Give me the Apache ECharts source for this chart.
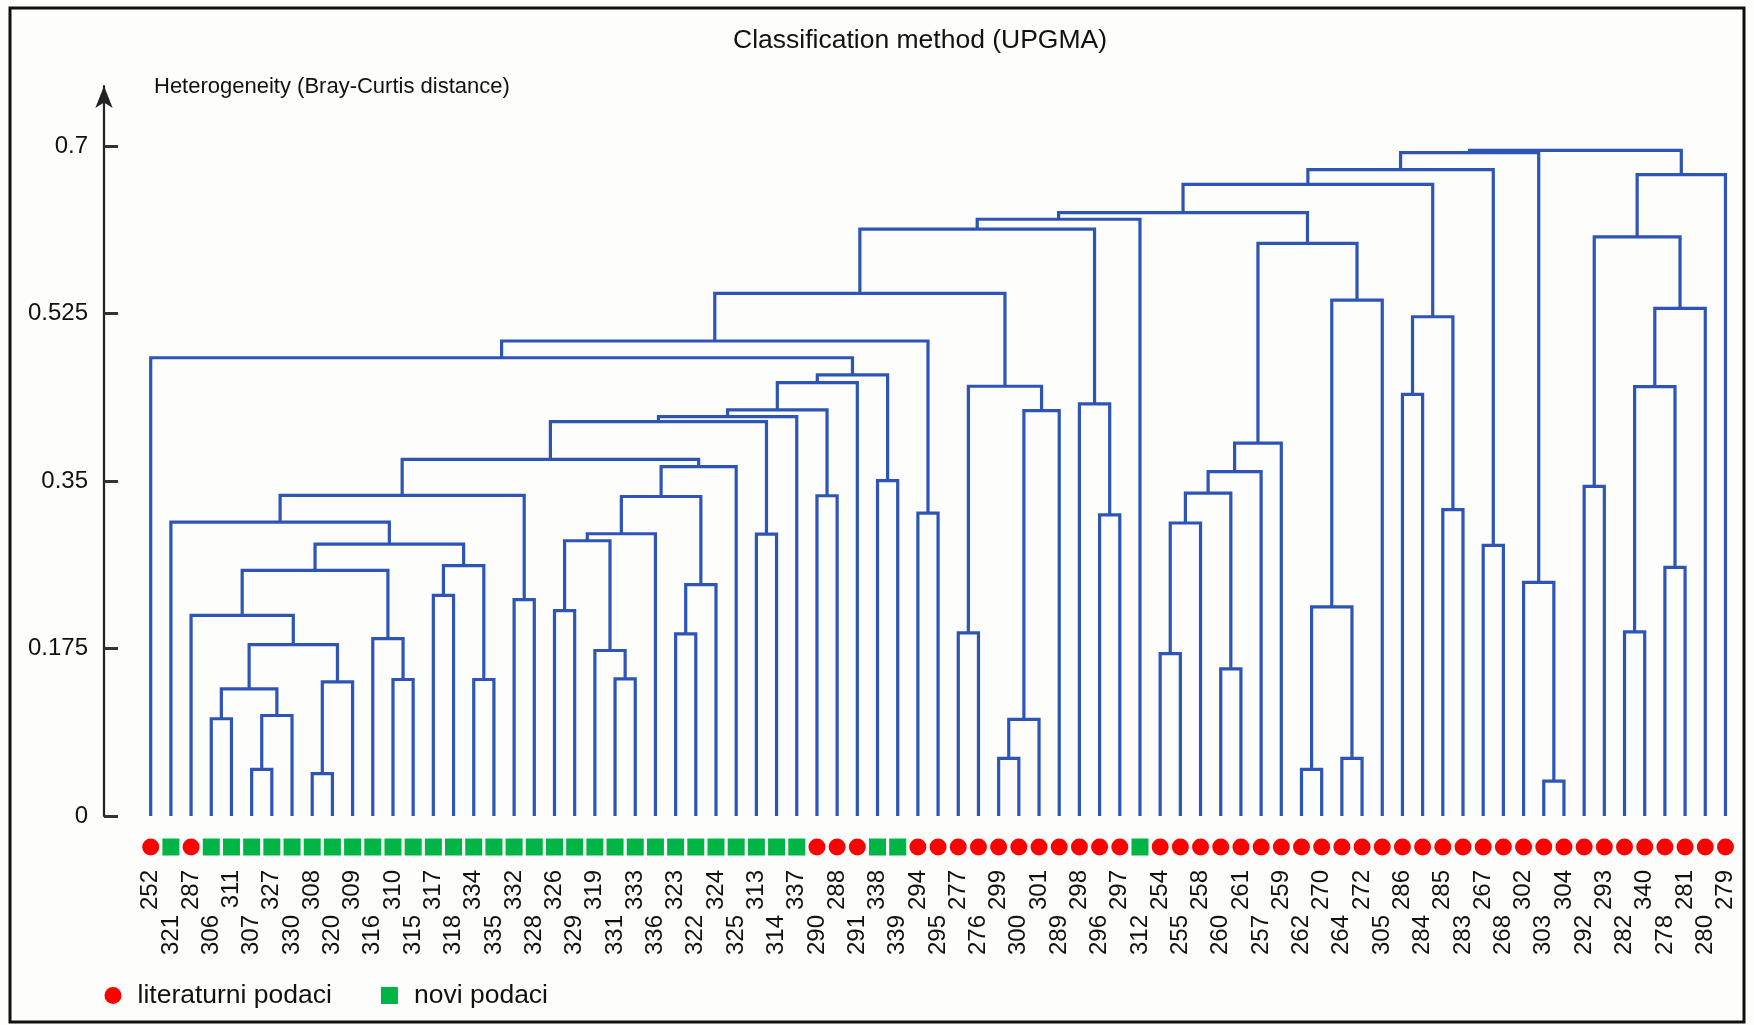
<!DOCTYPE html>
<html>
<head>
<meta charset="utf-8">
<script src="https://cdn.jsdelivr.net/npm/echarts@6/dist/echarts.min.js"></script>
<style>
html,body{margin:0;padding:0;background:#fdfdfb;}
#chart{width:1754px;height:1025px;}
</style>
</head>
<body>
<div id="chart"></div>
<script>
// ---------- DATA ----------
// leaf labels, in dendrogram order (left to right)
const leafLabels = [
  '252','321','287','306','311','307','327','330','308','320',
  '309','316','310','315','317','318','334','335','332','328',
  '326','329','319','331','333','336','323','322','324','325',
  '313','314','337','290','288','291','338','339','294','295',
  '277','276','299','300','301','289','298','296','297','312',
  '254','255','258','260','261','257','259','262','270','264',
  '272','305','286','284','285','283','267','268','302','303',
  '304','292','293','282','340','278','281','280','279'
];
// L = literaturni podaci, N = novi podaci
const leafGroup = [
  'L','N','L','N','N','N','N','N','N','N',
  'N','N','N','N','N','N','N','N','N','N',
  'N','N','N','N','N','N','N','N','N','N',
  'N','N','N','L','L','L','N','N','L','L',
  'L','L','L','L','L','L','L','L','L','N',
  'L','L','L','L','L','L','L','L','L','L',
  'L','L','L','L','L','L','L','L','L','L',
  'L','L','L','L','L','L','L','L','L'
];
const groupNames = { L: 'literaturni podaci', N: 'novi podaci' };
// linkage: [left, right, height]; numbers = leaf index, 'mK' = merge K
const merges = [
  [5, 6, 0.0487],        // m0
  [8, 9, 0.0442],        // m1
  [3, 4, 0.1016],        // m2
  ['m0', 7, 0.105],      // m3
  ['m2', 'm3', 0.1329],  // m4
  ['m1', 10, 0.1402],    // m5
  ['m4', 'm5', 0.1791],  // m6
  [2, 'm6', 0.2097],     // m7
  [12, 13, 0.1426],      // m8
  [11, 'm8', 0.1854],    // m9
  ['m7', 'm9', 0.2566],  // m10
  [14, 15, 0.2305],      // m11
  [16, 17, 0.1426],      // m12
  ['m11', 'm12', 0.2615],// m13
  ['m10', 'm13', 0.2841],// m14
  [1, 'm14', 0.3071],    // m15
  [18, 19, 0.2261],      // m16
  ['m15', 'm16', 0.3349],// m17
  [20, 21, 0.2146],      // m18
  [23, 24, 0.1433],      // m19
  [22, 'm19', 0.1729],   // m20
  ['m18', 'm20', 0.2876],// m21
  ['m21', 25, 0.2949],   // m22
  [26, 27, 0.1903],      // m23
  ['m23', 28, 0.2417],   // m24
  ['m22', 'm24', 0.3338],// m25
  ['m25', 29, 0.3651],   // m26
  ['m17', 'm26', 0.3725],// m27
  [30, 31, 0.2946],      // m28
  ['m27', 'm28', 0.4121],// m29
  ['m29', 32, 0.4173],   // m30
  [33, 34, 0.3346],      // m31
  ['m30', 'm31', 0.4243],// m32
  ['m32', 35, 0.4527],   // m33
  [36, 37, 0.3505],      // m34
  ['m33', 'm34', 0.4608],// m35
  [0, 'm35', 0.4788],    // m36
  [38, 39, 0.3165],      // m37
  ['m36', 'm37', 0.4963],// m38
  [40, 41, 0.1913],      // m39
  [42, 43, 0.0602],      // m40
  ['m40', 44, 0.1009],   // m41
  ['m41', 45, 0.4236],   // m42
  ['m39', 'm42', 0.449], // m43
  ['m38', 'm43', 0.546], // m44
  [47, 48, 0.3147],      // m45
  [46, 'm45', 0.4305],   // m46
  ['m44', 'm46', 0.6131],// m47
  ['m47', 49, 0.6235],   // m48
  [50, 51, 0.1697],      // m49
  ['m49', 52, 0.3061],   // m50
  [53, 54, 0.1538],      // m51
  ['m50', 'm51', 0.3374],// m52
  ['m52', 55, 0.3599],   // m53
  ['m53', 56, 0.3895],   // m54
  [57, 58, 0.0487],      // m55
  [59, 60, 0.0602],      // m56
  ['m55', 'm56', 0.2184],// m57
  ['m57', 61, 0.539],    // m58
  ['m54', 'm58', 0.5982],// m59
  ['m48', 'm59', 0.6305],// m60
  [62, 63, 0.4406],      // m61
  [64, 65, 0.32],        // m62
  ['m61', 'm62', 0.5216],// m63
  ['m60', 'm63', 0.660], // m64
  [66, 67, 0.2827],      // m65
  ['m64', 'm65', 0.6754],// m66
  [69, 70, 0.0365],      // m67
  [68, 'm67', 0.2441],   // m68
  ['m66', 'm68', 0.6931],// m69
  [71, 72, 0.3443],      // m70
  [73, 74, 0.1924],      // m71
  [75, 76, 0.2598],      // m72
  ['m71', 'm72', 0.4486],// m73
  ['m73', 77, 0.5304],   // m74
  ['m70', 'm74', 0.605], // m75
  ['m75', 78, 0.6702],   // m76
  ['m69', 'm76', 0.6955] // m77
];
const tickValues = [0, 0.175, 0.35, 0.525, 0.7];
const tickLabels = ['0', '0.175', '0.35', '0.525', '0.7'];

// ---------- BUILD ----------
const FONT = '"Liberation Sans", Arial, Helvetica, sans-serif';
const LINE = '#2d55b6';
const nodeInfo = {};
const segData = [];
function info(ref) { return typeof ref === 'number' ? [ref, 0] : nodeInfo[ref]; }
merges.forEach(function (m, k) {
  const a = info(m[0]), b = info(m[1]);
  segData.push([a[0], a[1], b[0], b[1], m[2]]);
  nodeInfo['m' + k] = [(a[0] + b[0]) / 2, m[2]];
});
const litData = [], noviData = [];
leafGroup.forEach(function (g, i) { (g === 'L' ? litData : noviData).push([i, 0]); });
const labelData = leafLabels.map(function (l, i) { return [i, 0]; });

const chart = echarts.init(document.getElementById('chart'), null, { renderer: 'canvas' });
const option = {
  backgroundColor: '#fdfdfb',
  animation: false,
  title: [
    { text: 'Classification method (UPGMA)', left: 733, top: 27, padding: 0,
      textStyle: { fontFamily: FONT, fontSize: 26.5, fontWeight: 'normal', color: '#111' } },
    { text: 'Heterogeneity (Bray-Curtis distance)', left: 154, top: 76, padding: 0,
      textStyle: { fontFamily: FONT, fontSize: 22, fontWeight: 'normal', color: '#111' } }
  ],
  legend: {
    data: [{ name: groupNames.L, icon: 'circle' }, { name: groupNames.N, icon: 'rect' }],
    left: 104.5, top: 982, padding: 0, itemWidth: 17, itemHeight: 17, itemGap: 49,
    selectedMode: false,
    textStyle: { fontFamily: FONT, fontSize: 26.5, color: '#111', padding: [0, 0, 0, 11] }
  },
  grid: { left: 104, right: 14, top: 86, bottom: 209, containLabel: false },
  xAxis: { type: 'value', min: -2.313, max: 78.72, show: false },
  yAxis: {
    type: 'value', min: 0, max: 0.7627,
    axisLine: { show: true, onZero: false, symbol: ['none', 'arrow'], symbolSize: [13, 22],
      lineStyle: { color: '#222', width: 2.2 } },
    axisTick: { show: true, inside: true, length: 14, customValues: tickValues,
      lineStyle: { color: '#333', width: 3 } },
    axisLabel: { customValues: tickValues, margin: 16, fontFamily: FONT, fontSize: 24, color: '#111',
      formatter: function (v) { const i = tickValues.findIndex(function (t) { return Math.abs(t - v) < 1e-9; }); return i >= 0 ? tickLabels[i] : ''; } },
    splitLine: { show: false }
  },
  series: [
    {
      type: 'custom', name: 'dendrogram', silent: true,
      encode: { x: [0, 2], y: [1, 3, 4] },
      data: segData,
      renderItem: function (params, api) {
        const a = api.coord([api.value(0), api.value(1)]);
        const t1 = api.coord([api.value(0), api.value(4)]);
        const t2 = api.coord([api.value(2), api.value(4)]);
        const b = api.coord([api.value(2), api.value(3)]);
        return { type: 'polyline', shape: { points: [a, t1, t2, b] },
          style: { stroke: LINE, lineWidth: 3.2, fill: 'none' } };
      }
    },
    {
      type: 'scatter', name: groupNames.L, data: litData, symbol: 'circle', symbolSize: 17,
      symbolOffset: [0, 31], clip: false, silent: true, itemStyle: { color: '#ff0000', opacity: 1 }
    },
    {
      type: 'scatter', name: groupNames.N, data: noviData, symbol: 'rect', symbolSize: 17,
      symbolOffset: [0, 31], clip: false, silent: true, itemStyle: { color: '#00b445', opacity: 1 }
    },
    {
      type: 'custom', name: 'leafLabels', silent: true, clip: false,
      encode: { x: 0, y: 1 },
      data: labelData,
      renderItem: function (params, api) {
        const i = params.dataIndex;
        const p = api.coord([api.value(0), 0]);
        return { type: 'text', x: p[0], y: p[1] + (i % 2 ? 99 : 54), rotation: Math.PI / 2,
          style: { text: leafLabels[i], fill: '#111', font: '24px ' + FONT, align: 'right', verticalAlign: 'middle' } };
      }
    }
  ],
  graphic: [
    { type: 'rect', silent: true, shape: { x: 10, y: 8, width: 1734, height: 1014 },
      style: { fill: 'none', stroke: '#111', lineWidth: 3 } }
  ]
};
chart.setOption(option);
</script>
</body>
</html>
